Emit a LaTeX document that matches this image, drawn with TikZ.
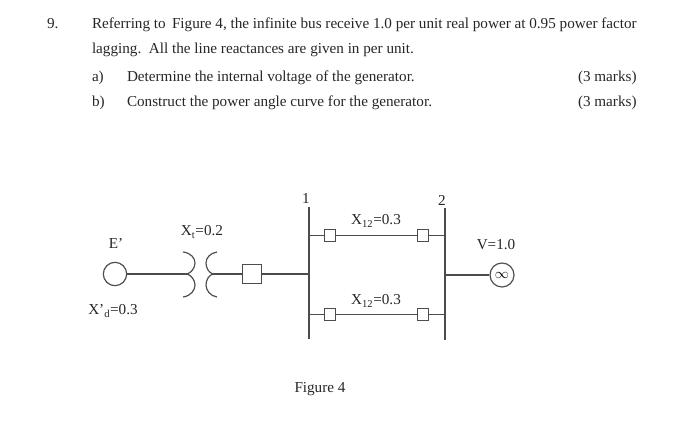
\documentclass[tikz,border=0pt]{standalone}
\usepackage{fontspec}
\setmainfont{Liberation Serif}
\usepackage{tikz}
\usetikzlibrary{calc,shapes}
\definecolor{inkgray}{gray}{0.15}
\definecolor{linegray}{gray}{0.3}

\begin{document}
\begin{tikzpicture}[x=0.03cm, y=-0.03cm, font=\fontsize{12.95}{14}\selectfont,
    txt/.style={inner sep=0pt, outer sep=0pt, text=inkgray, anchor=base west},
    lbl/.style={inner sep=0pt, outer sep=0pt, text=inkgray, anchor=center},
    wire/.style={draw=linegray, line width=1pt},
    busbar/.style={draw=linegray, line width=1.1pt},
    brk/.style={rectangle, draw=linegray, line width=1pt, fill=white, minimum size=0.34cm, inner sep=0pt},
    gen/.style={circle, draw=linegray, line width=1pt, fill=white, minimum size=0.72cm, inner sep=0pt}]
    \useasboundingbox (0,0) rectangle (700,424);
    % Place text
    \node [txt] (num) at (47,29) {9.};
    \node [txt] (line1) at (92,29) {Referring to\, Figure 4, the infinite bus receive 1.0 per unit real power at 0.95 power factor};
    \node [txt] (line2) at (92,54) {lagging.\, All the line reactances are given in per unit.};
    \node [txt] (parta) at (92,81) {a)};
    \node [txt] (texta) at (127,81) {Determine the internal voltage of the generator.};
    \node [txt] (marka) at (578,81) {(3 marks)};
    \node [txt] (partb) at (92,106) {b)};
    \node [txt] (textb) at (127,106) {Construct the power angle curve for the generator.};
    \node [txt] (markb) at (578,106) {(3 marks)};
    % Place nodes
    \node [gen, minimum size=0.7cm] (G) at (115,274) {};
    \node [gen] (B) at (502,275) {\fontsize{12}{12}\selectfont$\infty$};
    \node [brk, minimum size=0.58cm] (S) at (252,274) {};
    \coordinate (T1) at (187,274);
    \coordinate (T2) at (213,274);
    \coordinate (A1) at (309,207);
    \coordinate (A2) at (309,339);
    \coordinate (C1) at (445,208);
    \coordinate (C2) at (445,340);
    \coordinate (AS) at (309,274);
    \coordinate (CB) at (445,275);
    \coordinate (AU) at (309,235.5);
    \coordinate (AL) at (309,314.5);
    \coordinate (CU) at (445,235.5);
    \coordinate (CL) at (445,314.5);
    \node [brk] (SA) at (330,235.5) {};
    \node [brk] (SB) at (423,235.5) {};
    \node [brk] (SC) at (330,314.5) {};
    \node [brk] (SD) at (423,314.5) {};
    % Place connectors
    \path [wire] (G) -- (T1);
    \path [wire] (T2) -- (S);
    \path [wire] (S) -- (AS);
    \path [busbar] (A1) -- (A2);
    \path [busbar] (C1) -- (C2);
    \path [wire] (AU) -- (SA);
    \path [wire] (SA) -- (SB);
    \path [wire] (SB) -- (CU);
    \path [wire] (AL) -- (SC);
    \path [wire] (SC) -- (SD);
    \path [wire] (SD) -- (CL);
    \path [wire] (CB) -- (B);
    % Transformer coils
    \path [wire] (183,252) .. controls (191,253) and (195,258) .. (195,263) .. controls (195,268) and (191,273) .. (T1)
        .. controls (191,275) and (195,280) .. (195,285) .. controls (195,290) and (191,296) .. (183,297);
    \path [wire] (217,252) .. controls (210,253) and (206,258) .. (206,263) .. controls (206,268) and (209,273) .. (T2)
        .. controls (209,275) and (206,280) .. (206,285) .. controls (206,290) and (210,296) .. (217,297);
    % Place labels
    \node [lbl] (lE) at (116,243) {E'};
    \node [lbl] (lXt) at (202,232) {X\textsubscript{t}=0.2};
    \node [lbl] (lXd) at (113,311) {X'\textsubscript{d}=0.3};
    \node [lbl] (l1) at (306,198) {1};
    \node [lbl] (l2) at (442,200) {2};
    \node [lbl] (lU) at (376,221) {X\textsubscript{12}=0.3};
    \node [lbl] (lL) at (376,301) {X\textsubscript{12}=0.3};
    \node [lbl] (lV) at (496,245) {V=1.0};
    \node [lbl] (lF) at (320,389) {Figure 4};
\end{tikzpicture}
\end{document}
